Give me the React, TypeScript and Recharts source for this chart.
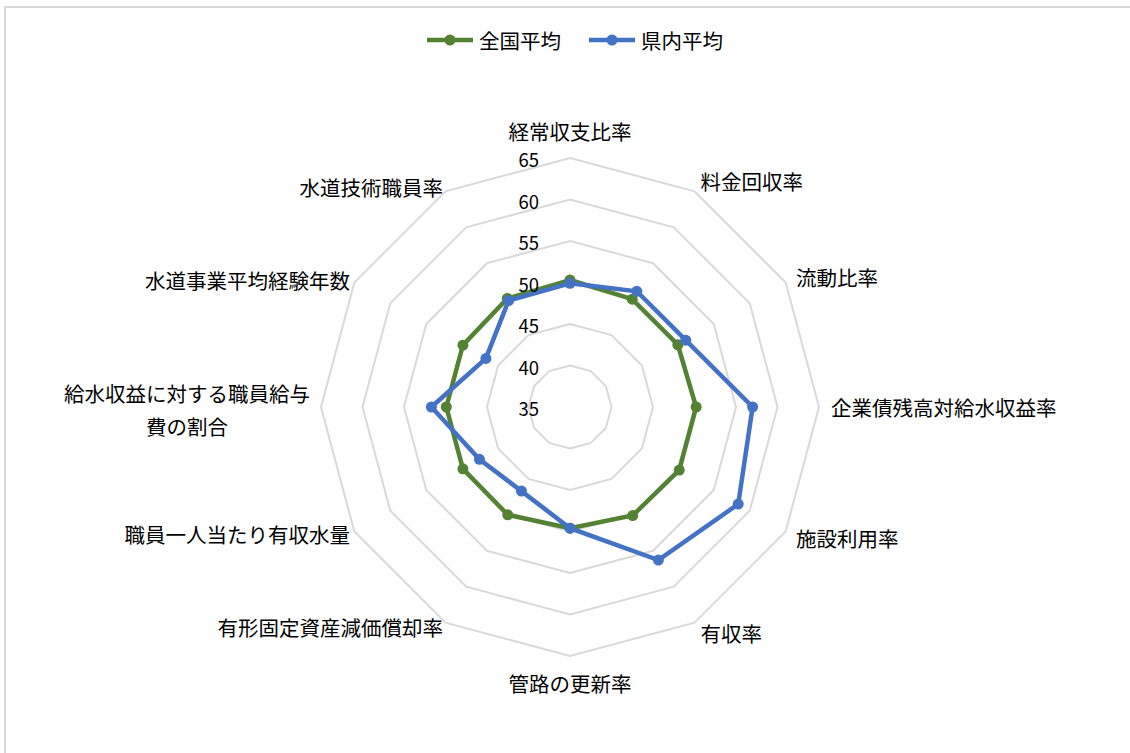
import React from 'react';
import { RadarChart, Radar, PolarGrid, PolarAngleAxis, PolarRadiusAxis } from 'recharts';

const categories = [
  '経常収支比率',
  '料金回収率',
  '流動比率',
  '企業債残高対給水収益率',
  '施設利用率',
  '有収率',
  '管路の更新率',
  '有形固定資産減価償却率',
  '職員一人当たり有収水量',
  '給水収益に対する職員給与費の割合',
  '水道事業平均経験年数',
  '水道技術職員率',
];
const nationalAvg = [50.3, 50.0, 50.0, 50.2, 50.2, 50.1, 49.6, 50.0, 49.9, 49.9, 49.9, 50.1];
const prefAvg = [49.9, 51.1, 51.1, 57.0, 58.4, 56.3, 49.6, 46.7, 47.6, 51.7, 46.7, 49.8];
const radiusTicks = [35, 40, 45, 50, 55, 60, 65];
const seriesNames = ['全国平均', '県内平均'];
const seriesColors = ['#548235', '#4472C4'];
const labelLines: Record<string, string[]> = {
  '給水収益に対する職員給与費の割合': ['給水収益に対する職員給与', '費の割合'],
};

const data = categories.map((c, i) => ({ category: c, national: nationalAvg[i], pref: prefAvg[i] }));

const W = 1130;
const H = 753;
const CX = 570;
const CY = 407;
const R = 249;
const FONT = '"Noto Sans CJK JP", "Noto Sans", sans-serif';
const LABEL_SIZE = 20.5;

const AngleTick = (props: any) => {
  const { payload } = props;
  const cx = typeof props.cx === 'number' ? props.cx : CX;
  const cy = typeof props.cy === 'number' ? props.cy : CY;
  const i = categories.indexOf(payload.value);
  const rad = (i * 30 * Math.PI) / 180;
  const s = Math.sin(rad);
  const c = Math.cos(rad);
  const vertical = Math.abs(s) < 0.01;
  let d: number;
  if (vertical) d = c > 0 ? 27 : 27;
  else if (s > 0) d = 12;
  else if (Math.abs(c) < 0.01) d = 11;
  else d = 5;
  const x = cx + (R + d) * s;
  const y = cy - (R + d) * c;
  const anchor = vertical ? 'middle' : s > 0 ? 'start' : 'end';
  const lines = labelLines[payload.value];
  if (lines) {
    const blockW = lines[0].length * LABEL_SIZE;
    const mid = x - blockW / 2;
    return (
      <g>
        {lines.map((ln, k) => (
          <text
            key={k}
            x={mid}
            y={y - 14 + k * 33}
            textAnchor="middle"
            dominantBaseline="central"
            fontSize={LABEL_SIZE}
            fontFamily={FONT}
            fill="#000"
          >
            {ln}
          </text>
        ))}
      </g>
    );
  }
  return (
    <text x={x} y={y} textAnchor={anchor} dominantBaseline="central" fontSize={LABEL_SIZE} fontFamily={FONT} fill="#000">
      {payload.value}
    </text>
  );
};

const RadiusTick = (props: any) => {
  const { x, y, payload } = props;
  return (
    <text x={x - 31} y={y + 1} textAnchor="end" dominantBaseline="central" fontSize={18.5} fontFamily={FONT} fill="#000">
      {payload.value}
    </text>
  );
};

const makeDot = (color: string) => (p: any) => {
  if (p == null || typeof p.cx !== 'number' || typeof p.cy !== 'number') return <g key={p?.key ?? Math.random()} />;
  return <circle key={p.key ?? `${p.cx}-${p.cy}`} cx={p.cx} cy={p.cy} r={5.5} fill={color} stroke="none" />;
};

const LegendItem = ({ name, color, last }: { name: string; color: string; last: boolean }) => (
  <div style={{ display: 'flex', alignItems: 'center', marginRight: last ? 0 : 28 }}>
    <svg width={46} height={14} style={{ marginRight: 6 }}>
      <line x1={0} y1={7} x2={46} y2={7} stroke={color} strokeWidth={4.5} />
      <circle cx={23} cy={7} r={5.5} fill={color} />
    </svg>
    <span style={{ fontSize: LABEL_SIZE, fontFamily: FONT, color: '#000', lineHeight: '24px' }}>{name}</span>
  </div>
);

export default function App() {
  return (
    <div style={{ position: 'absolute', left: 0, top: 0, width: W, height: H, overflow: 'hidden', background: '#fff' }}>
      <div
        style={{
          position: 'absolute',
          left: 4,
          top: 6,
          width: W + 20,
          height: H + 20,
          border: '2px solid #d9d9d9',
          boxSizing: 'border-box',
        }}
      />
      <div
        style={{
          position: 'absolute',
          left: 0,
          top: 28,
          width: W,
          display: 'flex',
          justifyContent: 'center',
          paddingLeft: 20,
          boxSizing: 'border-box',
        }}
      >
        {seriesNames.map((n, i) => (
          <LegendItem key={n} name={n} color={seriesColors[i]} last={i === seriesNames.length - 1} />
        ))}
      </div>
      <div style={{ position: 'absolute', left: 0, top: 0 }}>
        <RadarChart
          width={W}
          height={H}
          data={data}
          cx={CX}
          cy={CY}
          outerRadius={R}
          startAngle={90}
          endAngle={-270}
          margin={{ top: 0, right: 0, bottom: 0, left: 0 }}
        >
          <PolarGrid gridType="polygon" radialLines={false} stroke="#d9d9d9" strokeWidth={2} />
          <PolarAngleAxis dataKey="category" tick={<AngleTick />} tickLine={false} axisLine={false} />
          <PolarRadiusAxis
            angle={90}
            domain={[35, 65]}
            ticks={radiusTicks}
            tickCount={7}
            axisLine={false}
            tickLine={false}
            tick={<RadiusTick />}
          />
          <Radar
            name={seriesNames[0]}
            dataKey="national"
            stroke={seriesColors[0]}
            strokeWidth={4.5}
            fill="none"
            fillOpacity={0}
            dot={makeDot(seriesColors[0])}
            isAnimationActive={false}
          />
          <Radar
            name={seriesNames[1]}
            dataKey="pref"
            stroke={seriesColors[1]}
            strokeWidth={4.5}
            fill="none"
            fillOpacity={0}
            dot={makeDot(seriesColors[1])}
            isAnimationActive={false}
          />
        </RadarChart>
      </div>
    </div>
  );
}
